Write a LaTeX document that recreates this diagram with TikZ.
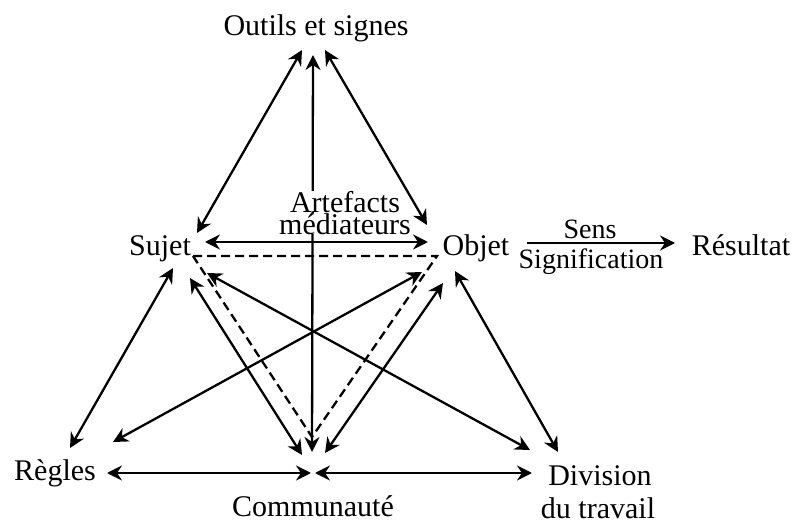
\documentclass[tikz,border=0pt]{standalone}
\usepackage{fontspec}
\setmainfont{Liberation Serif}
\usetikzlibrary{arrows.meta}
\begin{document}
\begin{tikzpicture}[x=1pt,y=-1pt,
  lbl/.style={inner sep=0pt, font=\fontsize{30}{34}\selectfont, anchor=base},
  slbl/.style={inner sep=0pt, font=\fontsize{28}{32}\selectfont, anchor=base},
  tip/.tip={Stealth[length=15pt,width=15pt,inset=5pt]},
  link/.style={line width=2.3pt, tip-tip},
  onearrow/.style={line width=2.3pt, -tip},
  dashline/.style={line width=2.3pt, dash pattern=on 9pt off 5pt}]
\useasboundingbox (0,0) rectangle (804,524);
% text nodes
\node[lbl] (outils) at (316,36) {Outils et signes};
\node[lbl] (sujet) at (160,255) {Sujet};
\node[lbl] (objet) at (476,255) {Objet};
\node[lbl] (resultat) at (741,255) {Résultat};
\node[slbl] (sens) at (590,238) {Sens};
\node[slbl] (signif) at (591,269) {Signification};
\node[lbl] (regles) at (55,480) {Règles};
\node[lbl] (comm) at (313,516) {Communauté};
\node[lbl] (div1) at (600,485) {Division};
\node[lbl] (div2) at (598,518) {du travail};
% connector ends
\coordinate (oS) at (302,50); \coordinate (oM) at (313,55); \coordinate (oO) at (325,50);
\coordinate (sO) at (197,233); \coordinate (sB) at (205,242);
\coordinate (sRg) at (173,268); \coordinate (sC) at (190,278); \coordinate (sD) at (207,273);
\coordinate (bO) at (427,225); \coordinate (bS) at (428,242);
\coordinate (bRg) at (422,272); \coordinate (bC) at (443,283); \coordinate (bD) at (455,271);
\coordinate (bRes) at (527,243); \coordinate (res) at (675,243);
\coordinate (rS) at (70,448); \coordinate (rO) at (113,442); \coordinate (rH) at (107,473);
\coordinate (cS) at (302,455); \coordinate (cM) at (312,452); \coordinate (cO) at (325,453);
\coordinate (cL) at (311,473); \coordinate (cR) at (315,473);
\coordinate (dS) at (530,450); \coordinate (dO) at (558,452); \coordinate (dH) at (532,473);
\coordinate (t1) at (193,256); \coordinate (t2) at (437,256); \coordinate (t3) at (312,437);
% vertical mediation line
\draw[link] (oM) -- (cM);
% label over it
\node[lbl, fill=white, inner xsep=2pt] (med) at (345,234) {médiateurs};
\node[lbl, fill=white, inner xsep=2pt] (art) at (345,212) {Artefacts};
% connectors
\draw[link] (oS) -- (sO);
\draw[link] (oO) -- (bO);
\draw[link] (sB) -- (bS);
\draw[link] (sRg) -- (rS);
\draw[link] (bRg) -- (rO);
\draw[link] (sC) -- (cS);
\draw[link] (sD) -- (dS);
\draw[link] (bC) -- (cO);
\draw[link] (bD) -- (dO);
\draw[link] (rH) -- (cL);
\draw[link] (cR) -- (dH);
\draw[onearrow] (bRes) -- (res);
\draw[dashline] (t1) -- (t2) -- (t3) -- cycle;
\end{tikzpicture}
\end{document}
